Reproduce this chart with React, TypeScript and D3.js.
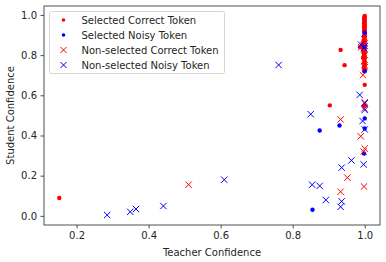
import React, { useEffect, useRef } from 'react'
import * as d3 from 'd3'

type Pt = [number, number] // [teacher, student]

const selectedCorrect: Pt[] = [
  [0.152, 0.089], [0.933, 0.826], [0.944, 0.75], [0.903, 0.55], [1.0, 0.652], [1.0, 0.548],
  [1.0, 0.995], [0.999, 0.99], [1.0, 0.985], [0.998, 0.98], [1.0, 0.975], [0.999, 0.97],
  [1.0, 0.965], [0.998, 0.96], [1.0, 0.955], [0.999, 0.95], [1.0, 0.945], [0.998, 0.94],
  [1.0, 0.935], [0.999, 0.93], [1.0, 0.925], [0.998, 0.92], [1.0, 0.915], [0.999, 0.905],
  [1.0, 0.9], [0.998, 0.895], [1.0, 0.89], [0.999, 0.88], [1.0, 0.875], [0.997, 0.87],
  [1.0, 0.86], [0.996, 0.855], [0.993, 0.85], [0.99, 0.845], [0.987, 0.84], [0.995, 0.835],
  [1.0, 0.83], [0.998, 0.82], [1.0, 0.81], [0.999, 0.8], [1.0, 0.79], [0.998, 0.78],
  [1.0, 0.77], [0.999, 0.76], [1.0, 0.75], [0.998, 0.74], [1.0, 0.73], [0.999, 0.72],
  [0.997, 0.81], [0.996, 0.79]
]

const selectedNoisy: Pt[] = [
  [0.855, 0.03], [0.875, 0.425], [0.93, 0.45], [0.998, 0.31], [1.0, 0.485],
  [1.0, 0.912], [1.0, 0.72], [1.0, 0.435], [0.999, 0.84]
]

const nonSelectedCorrect: Pt[] = [
  [0.511, 0.155], [0.933, 0.48], [0.989, 0.396], [0.952, 0.19], [0.933, 0.12],
  [0.998, 0.146], [1.0, 0.335], [0.997, 0.32], [0.995, 0.7], [1.0, 0.565],
  [0.999, 0.535], [1.0, 0.75], [0.998, 0.77], [1.0, 0.8], [0.999, 0.83],
  [1.0, 0.86], [0.998, 0.88], [1.0, 0.74], [0.997, 0.85], [0.99, 0.84]
]

const nonSelectedNoisy: Pt[] = [
  [0.285, 0.004], [0.349, 0.02], [0.365, 0.034], [0.441, 0.049], [0.61, 0.18],
  [0.761, 0.751], [0.85, 0.506], [0.854, 0.155], [0.875, 0.149], [0.892, 0.079],
  [0.936, 0.072], [0.933, 0.045], [0.936, 0.24], [0.963, 0.276], [0.997, 0.256],
  [1.0, 0.43], [0.994, 0.472], [1.0, 0.527], [1.0, 0.56], [0.986, 0.602],
  [0.99, 0.852], [1.0, 0.845], [0.998, 0.835]
]

const seriesNames = [
  'Selected Correct Token',
  'Selected Noisy Token',
  'Non-selected Correct Token',
  'Non-selected Noisy Token'
]
const xTicks = [0.2, 0.4, 0.6, 0.8, 1.0]
const yTicks = [0.0, 0.2, 0.4, 0.6, 0.8, 1.0]

const W = 386
const H = 262
const margin = { top: 6, right: 6, bottom: 37, left: 44 }
const font = 'DejaVu Sans, sans-serif'
const textCol = '#262626'

const App = () => {
  const ref = useRef<SVGSVGElement>(null)

  useEffect(() => {
    const svg = d3.select(ref.current)
    svg.selectAll('*').remove()

    const iw = W - margin.left - margin.right
    const ih = H - margin.top - margin.bottom

    const all = [...selectedCorrect, ...selectedNoisy, ...nonSelectedCorrect, ...nonSelectedNoisy]
    const pad = (ext: [number, number]) => {
      const m = (ext[1] - ext[0]) * 0.05
      return [ext[0] - m, ext[1] + m]
    }
    const x = d3.scaleLinear().domain(pad(d3.extent(all, d => d[0]) as [number, number])).range([0, iw])
    const y = d3.scaleLinear().domain(pad(d3.extent(all, d => d[1]) as [number, number])).range([ih, 0])

    const g = svg.append('g').attr('transform', `translate(${margin.left},${margin.top})`)

    const plot = g.append('g')
    const dots = (data: Pt[], col: string) => {
      plot.append('g').selectAll('circle').data(data).enter().append('circle')
        .attr('cx', d => x(d[0])).attr('cy', d => y(d[1])).attr('r', 2.2).attr('fill', col)
    }
    const crosses = (data: Pt[], col: string) => {
      const s = 3.2
      plot.append('g').selectAll('path').data(data).enter().append('path')
        .attr('d', d => {
          const cx = x(d[0])
          const cy = y(d[1])
          return `M${cx - s},${cy - s}L${cx + s},${cy + s}M${cx - s},${cy + s}L${cx + s},${cy - s}`
        })
        .attr('stroke', col).attr('stroke-width', 1).attr('fill', 'none')
    }
    dots(selectedCorrect, '#ff0000')
    dots(selectedNoisy, '#0000ff')
    crosses(nonSelectedCorrect, '#ff0000')
    crosses(nonSelectedNoisy, '#0000ff')

    // axes
    const xAxis = g.append('g').attr('transform', `translate(0,${ih})`)
      .call(d3.axisBottom(x).tickValues(xTicks).tickFormat(d3.format('.1f')).tickSize(3.5).tickPadding(3.5))
    const yAxis = g.append('g')
      .call(d3.axisLeft(y).tickValues(yTicks).tickFormat(d3.format('.1f')).tickSize(3.5).tickPadding(3.5))
    for (const a of [xAxis, yAxis]) {
      a.select('.domain').remove()
      a.selectAll('line').attr('stroke', textCol).attr('stroke-width', 0.8)
      a.selectAll('text').attr('fill', textCol).style('font-family', font).style('font-size', '10px')
    }

    g.append('rect').attr('width', iw).attr('height', ih)
      .attr('fill', 'none').attr('stroke', textCol).attr('stroke-width', 0.8)

    g.append('text')
      .attr('x', iw / 2).attr('y', ih + 31)
      .attr('text-anchor', 'middle').attr('fill', textCol)
      .style('font-family', font).style('font-size', '10px')
      .text('Teacher Confidence')
    g.append('text')
      .attr('transform', `translate(${-30},${ih / 2}) rotate(-90)`)
      .attr('text-anchor', 'middle').attr('fill', textCol)
      .style('font-family', font).style('font-size', '10px')
      .text('Student Confidence')

    // legend
    const lg = g.append('g').attr('transform', 'translate(5.5,5.5)')
    lg.append('rect').attr('width', 175).attr('height', 62).attr('rx', 2)
      .attr('fill', 'white').attr('fill-opacity', 0.8).attr('stroke', '#cccccc').attr('stroke-width', 0.8)
    seriesNames.forEach((name, i) => {
      const cy = 8.5 + i * 15
      const cx = 14
      const col = i % 2 === 0 ? '#ff0000' : '#0000ff'
      if (i < 2) {
        lg.append('circle').attr('cx', cx).attr('cy', cy).attr('r', 1.8).attr('fill', col)
      } else {
        const s = 3
        lg.append('path')
          .attr('d', `M${cx - s},${cy - s}L${cx + s},${cy + s}M${cx - s},${cy + s}L${cx + s},${cy - s}`)
          .attr('stroke', col).attr('stroke-width', 1)
      }
      lg.append('text').attr('x', 32).attr('y', cy).attr('dy', '0.35em')
        .attr('fill', textCol).style('font-family', font).style('font-size', '10px').text(name)
    })
  }, [])

  return (
    <svg ref={ref} width={W} height={H}
      style={{ position: 'absolute', left: 0, top: 0, background: 'white' }} />
  )
}

export default App
